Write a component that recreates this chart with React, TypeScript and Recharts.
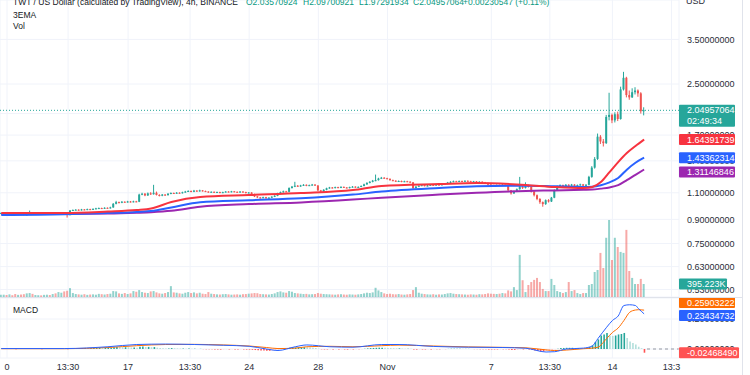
import React from 'react';
import { ComposedChart, Bar, Line, XAxis, YAxis, CartesianGrid, ReferenceLine, Cell } from 'recharts';

const FONT = '"Liberation Sans", Arial, sans-serif';
const UP = '#26a69a';
const DOWN = '#ef5350';
const VOL_UP = 'rgba(38,166,154,0.5)';
const VOL_DOWN = 'rgba(239,83,80,0.5)';
const GRID = '#f0f3fa';
const AXIS_TEXT = '#2a2e39';
const EMA_RED = '#f7333f';
const EMA_BLUE = '#2962ff';
const EMA_PURPLE = '#9c27b0';
const MACD_BLUE = '#2962ff';
const MACD_ORANGE = '#ff6d00';

const W = 742;
const MAIN_H = 297;
const MACD_H = 78;
const AXIS_W = 63;

// 4h candles, t = number of 4h bars after Oct 10 00:00
const START_T = -2;
const FIRST_OPEN = 0.943;

const closes = [
  0.944, 0.945,
  0.942, 0.946, 0.944, 0.940, 0.943, 0.938, 0.931, 0.934, 0.948, 0.941,
  0.944, 0.946, 0.943, 0.945, 0.947, 0.944, 0.946, 0.943, 0.945, 0.948,
  0.944, 0.930, 0.962, 0.966, 0.968, 0.965, 0.970, 0.968, 0.972, 0.969,
  0.974, 0.978, 0.980, 0.977, 0.982, 0.979, 0.985, 1.012, 1.025, 1.020,
  1.028, 1.024, 1.030, 1.026, 1.031, 1.028, 1.085, 1.092, 1.078, 1.095,
  1.088, 1.100, 1.082, 1.076, 1.085, 1.080, 1.092, 1.098, 1.095, 1.100,
  1.097, 1.104, 1.110, 1.115, 1.108, 1.118, 1.112, 1.120, 1.114, 1.110,
  1.104, 1.108, 1.102, 1.106, 1.100, 1.105, 1.110, 1.106, 1.112, 1.108,
  1.104, 1.110, 1.106, 1.098, 1.102, 1.090, 1.070, 1.062, 1.058, 1.064,
  1.056, 1.060, 1.068, 1.075, 1.095, 1.105, 1.112, 1.108, 1.140, 1.152,
  1.160, 1.155, 1.162, 1.168, 1.160, 1.165, 1.170, 1.162, 1.120, 1.112,
  1.125, 1.138, 1.145, 1.140, 1.148, 1.142, 1.150, 1.145, 1.140, 1.148,
  1.152, 1.146, 1.150, 1.158, 1.172, 1.185, 1.195, 1.205, 1.210, 1.225,
  1.232, 1.228, 1.222, 1.210, 1.205, 1.198, 1.202, 1.195, 1.200, 1.196,
  1.190, 1.140, 1.152, 1.160, 1.165, 1.158, 1.162, 1.168, 1.163, 1.170,
  1.166, 1.172, 1.178, 1.188, 1.195, 1.200, 1.196, 1.202, 1.198, 1.204,
  1.200, 1.195, 1.199, 1.193, 1.196, 1.190, 1.185, 1.170, 1.165, 1.160,
  1.166, 1.162, 1.168, 1.160, 1.120, 1.095, 1.110, 1.130, 1.152, 1.140,
  1.165, 1.150, 1.110, 1.080, 1.050, 1.025, 1.010, 1.040, 1.030, 1.060,
  1.120, 1.155, 1.165, 1.150, 1.168, 1.160, 1.170, 1.158, 1.165, 1.172,
  1.160, 1.168, 1.240, 1.330, 1.420, 1.680, 1.620, 1.600, 1.950, 1.980,
  1.900, 1.990, 1.920, 2.400, 2.620, 2.300, 2.260, 2.350, 2.380, 2.330,
  2.03570924, 2.04957064,
];

const highs = [
  0.947, 0.948,
  0.947, 0.949, 0.948, 0.946, 0.946, 0.945, 0.940, 0.937, 0.962, 0.950,
  0.947, 0.949, 0.948, 0.948, 0.950, 0.949, 0.948, 0.948, 0.947, 0.951,
  0.950, 0.946, 0.966, 0.970, 0.972, 0.971, 0.974, 0.973, 0.976, 0.975,
  0.978, 0.982, 0.984, 0.983, 0.986, 0.985, 0.990, 1.018, 1.035, 1.029,
  1.033, 1.031, 1.035, 1.034, 1.036, 1.035, 1.092, 1.100, 1.098, 1.102,
  1.105, 1.168, 1.110, 1.088, 1.090, 1.089, 1.097, 1.103, 1.102, 1.106,
  1.104, 1.109, 1.116, 1.121, 1.119, 1.124, 1.122, 1.126, 1.123, 1.118,
  1.113, 1.112, 1.111, 1.110, 1.109, 1.109, 1.114, 1.113, 1.116, 1.115,
  1.111, 1.114, 1.113, 1.109, 1.106, 1.105, 1.093, 1.074, 1.066, 1.068,
  1.067, 1.064, 1.072, 1.080, 1.100, 1.110, 1.118, 1.116, 1.146, 1.158,
  1.195, 1.166, 1.168, 1.174, 1.172, 1.170, 1.176, 1.174, 1.165, 1.124,
  1.130, 1.143, 1.150, 1.149, 1.152, 1.151, 1.155, 1.153, 1.148, 1.152,
  1.157, 1.155, 1.154, 1.163, 1.178, 1.191, 1.201, 1.212, 1.262, 1.232,
  1.240, 1.238, 1.232, 1.226, 1.215, 1.209, 1.207, 1.206, 1.205, 1.204,
  1.200, 1.193, 1.157, 1.165, 1.170, 1.169, 1.167, 1.173, 1.172, 1.175,
  1.174, 1.177, 1.183, 1.194, 1.200, 1.206, 1.204, 1.207, 1.206, 1.209,
  1.208, 1.204, 1.203, 1.202, 1.200, 1.199, 1.194, 1.188, 1.174, 1.169,
  1.171, 1.170, 1.173, 1.171, 1.163, 1.124, 1.118, 1.136, 1.240, 1.160,
  1.190, 1.170, 1.155, 1.114, 1.086, 1.056, 1.030, 1.046, 1.048, 1.066,
  1.128, 1.162, 1.172, 1.170, 1.175, 1.174, 1.176, 1.174, 1.171, 1.178,
  1.176, 1.175, 1.250, 1.345, 1.440, 1.720, 1.700, 1.650, 1.980, 2.340,
  2.000, 2.020, 2.030, 2.450, 2.740, 2.640, 2.380, 2.420, 2.440, 2.400,
  2.350, 2.09700921,
];

const lows = [
  0.941, 0.941,
  0.939, 0.940, 0.941, 0.937, 0.938, 0.935, 0.927, 0.928, 0.932, 0.938,
  0.939, 0.942, 0.940, 0.941, 0.943, 0.941, 0.942, 0.940, 0.941, 0.943,
  0.940, 0.912, 0.927, 0.959, 0.963, 0.961, 0.962, 0.964, 0.965, 0.966,
  0.966, 0.971, 0.975, 0.973, 0.974, 0.975, 0.976, 0.982, 1.008, 1.016,
  1.017, 1.020, 1.021, 1.022, 1.023, 1.024, 1.025, 1.080, 1.072, 1.074,
  1.082, 1.085, 1.078, 1.070, 1.072, 1.075, 1.078, 1.088, 1.090, 1.092,
  1.093, 1.094, 1.100, 1.106, 1.104, 1.105, 1.108, 1.109, 1.110, 1.106,
  1.100, 1.101, 1.098, 1.099, 1.096, 1.097, 1.102, 1.103, 1.103, 1.104,
  1.100, 1.101, 1.102, 1.094, 1.095, 1.086, 1.065, 1.057, 1.053, 1.055,
  1.051, 1.052, 1.057, 1.065, 1.072, 1.091, 1.101, 1.104, 1.105, 1.136,
  1.148, 1.150, 1.151, 1.158, 1.156, 1.157, 1.161, 1.158, 1.114, 1.106,
  1.108, 1.121, 1.134, 1.136, 1.137, 1.138, 1.139, 1.141, 1.136, 1.137,
  1.144, 1.142, 1.143, 1.147, 1.155, 1.168, 1.181, 1.190, 1.200, 1.206,
  1.220, 1.223, 1.217, 1.205, 1.200, 1.193, 1.194, 1.191, 1.192, 1.192,
  1.186, 1.132, 1.136, 1.148, 1.156, 1.154, 1.154, 1.158, 1.159, 1.160,
  1.162, 1.163, 1.168, 1.174, 1.184, 1.191, 1.192, 1.193, 1.194, 1.195,
  1.196, 1.191, 1.191, 1.189, 1.189, 1.186, 1.181, 1.165, 1.160, 1.155,
  1.156, 1.158, 1.158, 1.156, 1.112, 1.085, 1.090, 1.106, 1.126, 1.132,
  1.136, 1.144, 1.102, 1.070, 1.040, 1.012, 0.990, 1.004, 1.022, 1.026,
  1.056, 1.115, 1.150, 1.145, 1.146, 1.155, 1.156, 1.153, 1.154, 1.160,
  1.155, 1.156, 1.164, 1.232, 1.320, 1.410, 1.590, 1.560, 1.590, 1.900,
  1.860, 1.870, 1.890, 1.910, 2.380, 2.260, 2.220, 2.250, 2.310, 2.270,
  2.000, 1.97291934,
];

// volume in thousands
const volumes = [
  65, 70,
  60, 80, 55, 90, 65, 75, 85, 110, 120, 95,
  60, 55, 50, 65, 70, 60, 90, 110, 150, 130,
  170, 190, 270, 120, 90, 80, 70, 85, 65, 75,
  80, 70, 95, 85, 75, 90, 100, 180, 170, 110,
  95, 120, 90, 110, 180, 160, 210, 150, 130, 120,
  170, 180, 140, 110, 100, 120, 150, 330, 140, 130,
  110, 100, 130, 150, 120, 140, 110, 130, 100, 90,
  150, 100, 90, 80, 75, 85, 90, 80, 70, 75,
  80, 70, 85, 90, 100, 110, 120, 115, 90, 85,
  80, 75, 90, 110, 150, 170, 140, 130, 180, 160,
  120, 110, 100, 90, 95, 80, 85, 90, 120, 100,
  90, 85, 80, 75, 70, 80, 85, 75, 70, 80,
  75, 70, 80, 90, 110, 130, 120, 140, 280, 200,
  150, 110, 90, 100, 85, 80, 90, 75, 70, 80,
  90, 210, 300, 130, 100, 90, 80, 75, 85, 70,
  80, 75, 90, 110, 120, 100, 90, 85, 80, 75,
  70, 80, 75, 70, 85, 80, 90, 110, 100, 95,
  90, 100, 120, 110, 200, 170, 300, 210, 1280, 510,
  150, 365, 455, 520, 580, 455, 245, 180, 180, 550,
  365, 180, 150, 120, 150, 455, 180, 210, 120, 90,
  120, 120, 365, 395, 760, 820, 1340, 880, 1800, 2340,
  1125, 1800, 1520, 1370, 1340, 2040, 790, 580, 395, 395,
  550, 395.223,
];

const macdHist = [
  0.001, 0.001,
  0.002, 0.001, 0.000, -0.001, 0.001, 0.002, 0.001, 0.000, 0.002, 0.001,
  0.000, 0.001, -0.001, 0.000, 0.001, 0.001, 0.000, 0.002, 0.001, 0.000,
  0.001, -0.002, 0.004, 0.005, 0.005, 0.006, 0.006, 0.007, 0.006, 0.007,
  0.007, 0.008, 0.008, 0.007, 0.008, 0.009, 0.009, 0.012, 0.014, 0.013,
  0.012, 0.012, 0.011, 0.010, 0.010, 0.009, 0.015, 0.016, 0.013, 0.014,
  0.012, 0.013, 0.009, 0.006, 0.005, 0.004, 0.004, 0.006, 0.005, 0.004,
  0.003, 0.003, 0.002, 0.003, 0.001, 0.002, 0.000, 0.001, -0.001, -0.002,
  -0.002, -0.002, -0.003, -0.003, -0.004, -0.003, -0.002, -0.003, -0.002, -0.003,
  -0.003, -0.002, -0.003, -0.004, -0.004, -0.005, -0.007, -0.009, -0.010, -0.010,
  -0.011, -0.012, -0.011, -0.009, -0.004, 0.000, 0.003, 0.004, 0.008, 0.010,
  0.010, 0.011, 0.012, 0.012, 0.011, 0.010, 0.009, 0.007, 0.002, -0.002,
  -0.003, -0.003, -0.002, -0.003, -0.002, -0.003, -0.002, -0.003, -0.004, -0.003,
  -0.003, -0.002, -0.002, -0.001, 0.002, 0.004, 0.006, 0.007, 0.008, 0.009,
  0.009, 0.008, 0.007, 0.006, 0.005, 0.004, 0.004, 0.003, 0.002, 0.002,
  0.001, -0.004, -0.004, -0.003, -0.003, -0.003, -0.002, -0.003, -0.002, -0.002,
  -0.002, -0.001, -0.001, 0.001, 0.002, 0.002, 0.002, 0.002, 0.001, 0.001,
  0.001, 0.000, -0.001, -0.001, -0.001, -0.002, -0.002, -0.003, -0.003, -0.003,
  -0.003, -0.002, -0.002, -0.002, -0.004, -0.006, -0.006, -0.005, -0.002, -0.003,
  -0.002, -0.004, -0.007, -0.010, -0.013, -0.015, -0.016, -0.013, -0.012, -0.009,
  -0.004, 0.002, 0.006, 0.007, 0.008, 0.008, 0.008, 0.007, 0.007, 0.006,
  0.005, 0.007, 0.013, 0.024, 0.047, 0.064, 0.090, 0.097, 0.107, 0.090,
  0.087, 0.090, 0.097, 0.100, 0.107, 0.073, 0.050, 0.040, 0.030, 0.015,
  0.005, -0.0246849,
];

// EMA values read at selected bars
const emaT = [-2, 20, 35, 45, 50, 57, 67, 84, 102, 120, 130, 150, 163, 180, 190, 200, 203, 206, 209, 212, 215, 218, 221];
const emaRed = [0.944, 0.944, 0.955, 0.966, 0.977, 1.026, 1.066, 1.082, 1.098, 1.123, 1.158, 1.175, 1.184, 1.167, 1.149, 1.140, 1.149, 1.193, 1.285, 1.387, 1.485, 1.566, 1.64391739];
const emaBlue = [0.93, 0.935, 0.944, 0.952, 0.958, 0.985, 1.025, 1.04, 1.055, 1.085, 1.11, 1.14, 1.155, 1.16, 1.155, 1.15, 1.152, 1.165, 1.19, 1.23, 1.31, 1.38, 1.43362314];
const emaPurple = [0.937, 0.937, 0.94, 0.946, 0.95, 0.96, 0.99, 1.01, 1.023, 1.045, 1.06, 1.085, 1.10, 1.115, 1.12, 1.125, 1.127, 1.135, 1.145, 1.165, 1.21, 1.26, 1.31146846];

// MACD / signal read at selected bars
const macdT = [-2, 20, 35, 45, 55, 65, 75, 84, 90, 94, 100, 104, 112, 120, 130, 136, 148, 160, 172, 180, 187, 190, 194, 200, 203, 205, 208, 210, 212, 214, 216, 218, 219, 221];
const macdLine = [0.003, 0.003, 0.015, 0.03, 0.033, 0.03, 0.025, 0.018, 0.0, -0.01, 0.015, 0.027, 0.015, 0.012, 0.03, 0.03, 0.017, 0.012, 0.01, 0.005, -0.02, -0.018, 0.0, 0.006, 0.02, 0.07, 0.145, 0.19, 0.22, 0.29, 0.295, 0.29, 0.27, 0.23434732];
const signalLine = [0.002, 0.002, 0.01, 0.022, 0.03, 0.031, 0.027, 0.02, 0.01, 0.003, 0.006, 0.015, 0.018, 0.015, 0.022, 0.026, 0.02, 0.014, 0.011, 0.008, -0.006, -0.01, -0.007, 0.002, 0.006, 0.012, 0.07, 0.11, 0.14, 0.19, 0.245, 0.26, 0.262, 0.25903222];

const tickValues = [0, 21.2, 42, 63.5, 84, 108, 132, 168, 188.3, 210, 230.5];
const tickLabels = ['0', '13:30', '17', '13:30', '24', '28', 'Nov', '7', '13:30', '14', '13:3'];
const priceTicks = [0.53, 0.63, 0.75, 0.9, 1.1, 1.4, 1.7, 2.0, 2.5, 3.5];
const macdTicks = [0, 0.2];

const X_DOMAIN = [-2.43, 233.1];
const PRICE_DOMAIN = [0.5009, 4.713];
const VOL_DOMAIN = [0, 9027];
const MACD_DOMAIN = [-0.06, 0.34];

const rows: any[] = closes.map((c, i) => {
  const o = i === 0 ? FIRST_OPEN : closes[i - 1];
  return {
    t: START_T + i,
    o,
    c,
    h: highs[i],
    l: lows[i],
    range: [lows[i], highs[i]],
    vol: volumes[i],
    hist: macdHist[i],
    up: c >= o,
  };
});
rows.forEach((r, i) => {
  const prev = i > 0 ? rows[i - 1].hist : r.hist;
  if (r.hist >= 0) r.histColor = r.hist >= prev ? '#26a69a' : '#b2dfdb';
  else r.histColor = r.hist <= prev ? '#ff5252' : '#ffcdd2';
});

const emaRows = emaT.map((t, k) => ({ t, emaR: emaRed[k], emaB: emaBlue[k], emaP: emaPurple[k] }));
const macdRows = macdT.map((t, k) => ({ t, macd: macdLine[k], signal: signalLine[k] }));

const last = rows[rows.length - 1];

const Candle = (props: any) => {
  const { x, width, payload } = props;
  let { y, height } = props;
  if (x == null || payload == null || y == null) return null;
  if (height < 0) {
    y += height;
    height = -height;
  }
  const { o, c, h, l } = payload;
  const cx = x + width / 2;
  const lh = Math.log(h);
  const ll = Math.log(l);
  const span = lh - ll || 1;
  const py = (p: number) => y + ((lh - Math.log(p)) / span) * height;
  const color = c >= o ? UP : DOWN;
  const top = py(Math.max(o, c));
  const bot = py(Math.min(o, c));
  return (
    <g>
      <line x1={cx} x2={cx} y1={y} y2={y + height} stroke={color} strokeWidth={1} />
      <rect x={cx - 1} y={top} width={2} height={Math.max(1, bot - top)} fill={color} />
    </g>
  );
};

const Tag = (props: any) => {
  const { viewBox, text, sub, fill, w = 56, dy = 0 } = props;
  if (!viewBox) return null;
  const x = viewBox.x + viewBox.width;
  const cy = viewBox.y + dy;
  const h = sub ? 22 : 11;
  return (
    <g>
      <rect x={x} y={cy - 5.5} width={w} height={h} fill={fill} rx={1} />
      <text x={x + 8} y={cy} dy="0.35em" fontSize={9} fill="#ffffff" fontFamily={FONT}>{text}</text>
      {sub ? (
        <text x={x + 8} y={cy + 11} dy="0.35em" fontSize={9} fill="#ffffff" fontFamily={FONT}>{sub}</text>
      ) : null}
    </g>
  );
};

const XTick = (props: any) => {
  const { x, y, payload } = props;
  const idx = tickValues.indexOf(payload.value);
  return (
    <text x={x} y={y} dy={4} textAnchor="middle" fontSize={9} fill={AXIS_TEXT} fontFamily={FONT}>
      {idx >= 0 ? tickLabels[idx] : ''}
    </text>
  );
};

const fmt8 = (v: number) => v.toFixed(8);
const LEG = 8.5;

export default function App() {
  return (
    <div style={{ position: 'absolute', left: 0, top: 0, width: 750, height: 375, background: '#ffffff', overflow: 'hidden', fontFamily: FONT }}>
      {/* price pane */}
      <div style={{ position: 'absolute', left: 0, top: 0 }}>
        <ComposedChart width={W} height={MAIN_H} data={rows} margin={{ top: 0, right: 0, bottom: 0, left: 0 }}>
          <CartesianGrid stroke={GRID} strokeWidth={1} />
          <XAxis dataKey="t" type="number" domain={X_DOMAIN} allowDataOverflow ticks={tickValues} interval={0} hide />
          <YAxis
            orientation="right"
            width={AXIS_W}
            scale="log"
            domain={PRICE_DOMAIN}
            allowDataOverflow
            ticks={priceTicks}
            interval={0}
            tickFormatter={fmt8}
            axisLine={false}
            tickLine={false}
            tick={{ fontSize: 9, fill: AXIS_TEXT, fontFamily: FONT }}
          />
          <Line data={emaRows} dataKey="emaP" stroke={EMA_PURPLE} strokeWidth={2} dot={false} activeDot={false} type="monotone" isAnimationActive={false} />
          <Line data={emaRows} dataKey="emaB" stroke={EMA_BLUE} strokeWidth={2} dot={false} activeDot={false} type="monotone" isAnimationActive={false} />
          <Line data={emaRows} dataKey="emaR" stroke={EMA_RED} strokeWidth={2} dot={false} activeDot={false} type="monotone" isAnimationActive={false} />
          <Bar dataKey="range" barSize={2} shape={<Candle />} isAnimationActive={false} />
          <ReferenceLine y={last.c} stroke={UP} strokeDasharray="1 2" />
        </ComposedChart>
      </div>
      {/* volume overlay + price tags */}
      <div style={{ position: 'absolute', left: 0, top: 0, pointerEvents: 'none' }}>
        <ComposedChart width={W} height={MAIN_H} data={rows} margin={{ top: 0, right: AXIS_W, bottom: 0, left: 0 }}>
          <XAxis dataKey="t" type="number" domain={X_DOMAIN} allowDataOverflow hide />
          <YAxis yAxisId="vol" domain={VOL_DOMAIN} allowDataOverflow hide />
          <YAxis yAxisId="price" scale="log" domain={PRICE_DOMAIN} allowDataOverflow hide />
          <Bar yAxisId="vol" dataKey="vol" barSize={2} isAnimationActive={false}>
            {rows.map((r, i) => (
              <Cell key={i} fill={r.up ? VOL_UP : VOL_DOWN} />
            ))}
          </Bar>
          <ReferenceLine yAxisId="vol" y={last.vol} stroke="none" label={<Tag text={`${last.vol.toFixed(3)}K`} fill="#26a69a" w={48} />} />
          <ReferenceLine yAxisId="price" y={last.c} stroke="none" label={<Tag text={fmt8(last.c)} sub="02:49:34" fill="#26a69a" />} />
          <ReferenceLine yAxisId="price" y={emaRed[emaRed.length - 1]} stroke="none" label={<Tag text={fmt8(emaRed[emaRed.length - 1])} fill="#f7333f" />} />
          <ReferenceLine yAxisId="price" y={emaBlue[emaBlue.length - 1]} stroke="none" label={<Tag text={fmt8(emaBlue[emaBlue.length - 1])} fill="#2962ff" />} />
          <ReferenceLine yAxisId="price" y={emaPurple[emaPurple.length - 1]} stroke="none" label={<Tag text={fmt8(emaPurple[emaPurple.length - 1])} fill="#9c27b0" dy={2.5} />} />
        </ComposedChart>
      </div>
      {/* MACD pane */}
      <div style={{ position: 'absolute', left: 0, top: MAIN_H }}>
        <ComposedChart width={W} height={MACD_H} data={rows} margin={{ top: 1, right: 0, bottom: 0, left: 0 }}>
          <CartesianGrid stroke={GRID} strokeWidth={1} />
          <XAxis
            dataKey="t"
            type="number"
            domain={X_DOMAIN}
            allowDataOverflow
            ticks={tickValues}
            interval={0}
            height={17}
            axisLine={false}
            tickLine={false}
            tick={<XTick />}
          />
          <YAxis
            orientation="right"
            width={AXIS_W}
            domain={MACD_DOMAIN}
            allowDataOverflow
            ticks={macdTicks}
            interval={0}
            tickFormatter={fmt8}
            axisLine={false}
            tickLine={false}
            tick={{ fontSize: 9, fill: AXIS_TEXT, fontFamily: FONT }}
          />
          <Bar dataKey="hist" barSize={1.6} isAnimationActive={false}>
            {rows.map((r, i) => (
              <Cell key={i} fill={r.histColor} />
            ))}
          </Bar>
          <Line data={macdRows} dataKey="signal" stroke={MACD_ORANGE} strokeWidth={1} dot={false} activeDot={false} type="monotone" isAnimationActive={false} />
          <Line data={macdRows} dataKey="macd" stroke={MACD_BLUE} strokeWidth={1} dot={false} activeDot={false} type="monotone" isAnimationActive={false} />
          <ReferenceLine segment={[{ x: 222, y: 0 }, { x: 233, y: 0 }]} stroke="#9598a1" strokeDasharray="3 3" />
        </ComposedChart>
      </div>
      {/* MACD tags overlay */}
      <div style={{ position: 'absolute', left: 0, top: MAIN_H, pointerEvents: 'none' }}>
        <ComposedChart width={W} height={MACD_H} data={rows} margin={{ top: 1, right: AXIS_W, bottom: 17, left: 0 }}>
          <XAxis dataKey="t" type="number" domain={X_DOMAIN} allowDataOverflow hide />
          <YAxis domain={MACD_DOMAIN} allowDataOverflow hide />
          <ReferenceLine y={signalLine[signalLine.length - 1]} stroke="none" label={<Tag text={fmt8(signalLine[signalLine.length - 1])} fill="#ff6d00" dy={-7.7} />} />
          <ReferenceLine y={macdLine[macdLine.length - 1]} stroke="none" label={<Tag text={fmt8(macdLine[macdLine.length - 1])} fill="#2962ff" dy={1.6} />} />
          <ReferenceLine y={last.hist} stroke="none" label={<Tag text={fmt8(last.hist)} fill="#ff5252" w={60} />} />
        </ComposedChart>
      </div>
      {/* separators */}
      <div style={{ position: 'absolute', left: 0, top: MAIN_H, width: W, height: 1, background: '#e0e3eb' }} />
      <div style={{ position: 'absolute', left: W, top: 0, width: 1, height: 375, background: '#e0e3eb' }} />
      {/* legend texts */}
      <svg width={750} height={375} style={{ position: 'absolute', left: 0, top: 0, pointerEvents: 'none' }} fontFamily={FONT}>
        <text x={13} y={5} fontSize={LEG} fill="#131722">TWT / US Dollar (calculated by TradingView), 4h, BINANCE</text>
        <text x={246} y={5} fontSize={LEG} fill="#089981">O2.03570924</text>
        <text x={303} y={5} fontSize={LEG} fill="#089981">H2.09700921</text>
        <text x={359} y={5} fontSize={LEG} fill="#089981">L1.97291934</text>
        <text x={413} y={5} fontSize={LEG} fill="#089981">C2.04957064</text>
        <text x={463} y={5} fontSize={LEG} fill="#089981">+0.00230547 (+0.11%)</text>
        <text x={13} y={18} fontSize={LEG} fill="#131722">3EMA</text>
        <text x={13} y={29} fontSize={LEG} fill="#131722">Vol</text>
        <text x={686} y={3.5} fontSize={9} fill={AXIS_TEXT}>USD</text>
        <text x={13} y={313} fontSize={LEG} fill="#131722">MACD</text>
      </svg>
    </div>
  );
}
